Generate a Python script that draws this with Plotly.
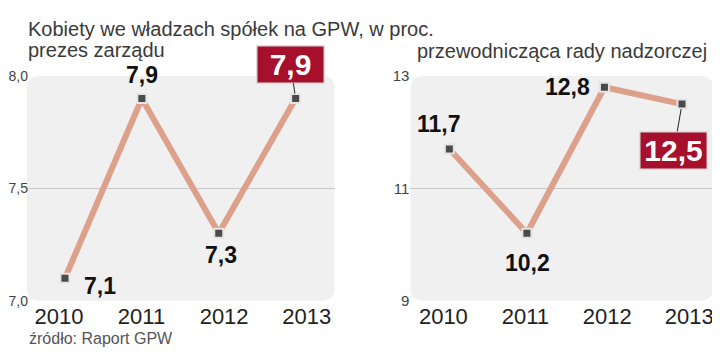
import plotly.graph_objects as go

# ---- data ----
years = ["2010", "2011", "2012", "2013"]
prezes = [7.1, 7.9, 7.3, 7.9]          # prezes zarządu
przew = [11.7, 10.2, 12.8, 12.5]       # przewodnicząca rady nadzorczej
left_ticks = [7.0, 7.5, 8.0]
right_ticks = [9, 11, 13]

title = "Kobiety we władzach spółek na GPW, w proc."
sub_left = "prezes zarządu"
sub_right = "przewodnicząca rady nadzorczej"
source = "źródło: Raport GPW"

OFF = 8                      # page body margin in the viewer
W, H = 720 - OFF, 361 - OFF
FONT = "Liberation Sans"
LINE = "#dda08b"
RED = "#a6102c"
idx = list(range(len(years)))


def px(x):
    return (x - OFF) / W


def py(y):
    return 1 - (y - OFF) / H


def rounded(x0, y0, x1, y1, r):
    rx, ry = r / W, r / H
    X0, X1 = px(x0), px(x1)
    Yt, Yb = py(y0), py(y1)
    return (f"M {X0+rx},{Yt} L {X1-rx},{Yt} Q {X1},{Yt} {X1},{Yt-ry} "
            f"L {X1},{Yb+ry} Q {X1},{Yb} {X1-rx},{Yb} L {X0+rx},{Yb} "
            f"Q {X0},{Yb} {X0},{Yb+ry} L {X0},{Yt-ry} Q {X0},{Yt} {X0+rx},{Yt} Z")


LD = (27, 335)   # left panel (viewport px)
RD = (411, 714)  # right panel
TOP, BOT = 70, 306

fig = go.Figure()

marker = dict(symbol="square", size=9, color="#4a4a4a",
              line=dict(color="#e4e4e4", width=2))

fig.add_trace(go.Scatter(x=idx, y=prezes, xaxis="x", yaxis="y", mode="lines+markers",
                         line=dict(color=LINE, width=6), marker=marker,
                         hoverinfo="skip", showlegend=False))
fig.add_trace(go.Scatter(x=idx, y=przew, xaxis="x2", yaxis="y2", mode="lines+markers",
                         line=dict(color=LINE, width=6), marker=marker,
                         hoverinfo="skip", showlegend=False))
fig.add_trace(go.Scatter(x=idx, y=prezes, xaxis="x3", yaxis="y", mode="markers",
                         marker=dict(opacity=0), hoverinfo="skip", showlegend=False))
fig.add_trace(go.Scatter(x=idx, y=przew, xaxis="x4", yaxis="y2", mode="markers",
                         marker=dict(opacity=0), hoverinfo="skip", showlegend=False))

ydom = [py(BOT), py(TOP)]
common_y = dict(showgrid=True, gridcolor="#c8c8cc", gridwidth=1, zeroline=False,
                showline=False, ticks="", domain=ydom, fixedrange=True)
hidden_x = dict(showgrid=False, zeroline=False, showline=False, showticklabels=False, ticks="")
label_x = dict(showgrid=False, zeroline=False, showline=False, ticks="",
               tickmode="array", tickvals=idx, ticktext=years,
               tickfont=dict(family=FONT, size=22, color="#222"))

fig.update_layout(
    width=W, height=H, margin=dict(l=0, r=0, t=0, b=0),
    paper_bgcolor="white", plot_bgcolor="rgba(0,0,0,0)",
    separators=", ",
    xaxis=dict(domain=[px(LD[0]), px(LD[1])], range=[-0.494, 3.506], **hidden_x),
    xaxis2=dict(domain=[px(RD[0]), px(RD[1])], range=[-0.502, 3.40], **hidden_x),
    xaxis3=dict(overlaying="x", anchor="y", domain=[px(LD[0]), px(LD[1])],
                range=[-0.387, 3.337], **label_x),
    xaxis4=dict(overlaying="x2", anchor="y2", domain=[px(RD[0]), px(RD[1])],
                range=[-0.402, 3.29], **label_x),
    yaxis=dict(anchor="x", range=[7.0, 8.0], tickmode="array", tickvals=left_ticks,
               tickformat=".1f", ticklabelstandoff=-2,
               tickfont=dict(family=FONT, size=14, color="#444"), **common_y),
    yaxis2=dict(anchor="x2", range=[9, 13], tickmode="array", tickvals=right_ticks,
                tickformat="d", tickfont=dict(family=FONT, size=15, color="#444"), **common_y),
    shapes=[
        dict(type="path", xref="paper", yref="paper", path=rounded(LD[0], TOP, LD[1], BOT, 13),
             fillcolor="#f0f0f1", line=dict(width=0), layer="below"),
        dict(type="path", xref="paper", yref="paper", path=rounded(RD[0], TOP, RD[1], BOT, 13),
             fillcolor="#f0f0f1", line=dict(width=0), layer="below"),
    ],
)

ann = []
tfont = dict(family=FONT, size=20, color="#3a3a3a")
ann.append(dict(xref="paper", yref="paper", x=px(27), y=1, xanchor="left", yanchor="top",
                text=title, showarrow=False, font=tfont, borderpad=0))
ann.append(dict(xref="paper", yref="paper", x=px(27), y=py(43), xanchor="left", yanchor="middle",
                text=sub_left, showarrow=False, font=tfont, borderpad=0))
ann.append(dict(xref="paper", yref="paper", x=px(709), y=py(44), xanchor="right", yanchor="middle",
                text=sub_right, showarrow=False, font=tfont, borderpad=0))
ann.append(dict(xref="paper", yref="paper", x=px(27), y=py(346), xanchor="left", yanchor="middle",
                text=source, showarrow=False, font=dict(family=FONT, size=16, color="#555")))


def fmt(v):
    return f"{v:.1f}".replace(".", ",")


lab_font = dict(family=FONT, size=23, color="#111")
left_pos = [(0, 35, -8), (1, 0, 23), (2, 2, -22)]
for i, xs, ys in left_pos:
    ann.append(dict(xref="x", yref="y", x=idx[i], y=prezes[i], text=f"<b>{fmt(prezes[i])}</b>",
                    showarrow=False, xshift=xs, yshift=ys, font=lab_font, borderpad=0))
right_pos = [(0, -10, 25), (1, 1, -30), (2, -37, 0)]
for i, xs, ys in right_pos:
    ann.append(dict(xref="x2", yref="y2", x=idx[i], y=przew[i], text=f"<b>{fmt(przew[i])}</b>",
                    showarrow=False, xshift=xs, yshift=ys, font=lab_font, borderpad=0))

box_font = dict(family=FONT, size=30, color="white")
ann.append(dict(xref="x", yref="y", x=idx[3], y=prezes[3], text=f"<b>{fmt(prezes[3])}</b>",
                showarrow=True, arrowhead=0, arrowwidth=1, arrowcolor="#222", standoff=5,
                ax=-5, ay=-34, bgcolor=RED, bordercolor="#dcdcdc", borderwidth=1.5,
                borderpad=1, width=64, height=34, font=box_font))
ann.append(dict(xref="x2", yref="y2", x=idx[3], y=przew[3], text=f"<b>{fmt(przew[3])}</b>",
                showarrow=True, arrowhead=0, arrowwidth=1, arrowcolor="#222", standoff=5,
                ax=-8, ay=46, bgcolor=RED, bordercolor="#dcdcdc", borderwidth=1.5,
                borderpad=1, width=64, height=34, font=box_font))

fig.update_layout(annotations=ann)
fig.write_html("out.html")
